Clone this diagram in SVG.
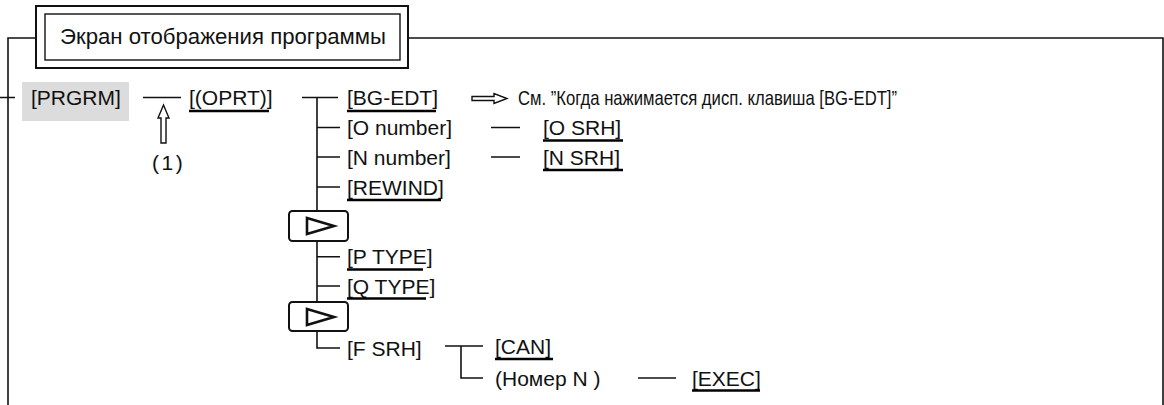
<svg xmlns="http://www.w3.org/2000/svg" width="1164" height="405" viewBox="0 0 1164 405">
<style>
text{font-family:"Liberation Sans",Arial,sans-serif;font-size:21px;fill:#111}
.ln{stroke:#111;stroke-width:1.6;fill:none}
.ul{stroke:#000;stroke-width:2.6}
.key{fill:#fff;stroke:#111;stroke-width:2}
.tri{fill:none;stroke:#111;stroke-width:2.6;stroke-linejoin:miter}
.hol{fill:#fff;stroke:#111;stroke-width:1.4}
</style>
<rect width="1164" height="405" fill="#fff"/>
<g id="frame">
<path class="ln" d="M8,405V38H36M408,38H1163V405M0,97.5H15"/>
</g>
<g id="title">
<rect x="36" y="6" width="372" height="62" fill="#fff" stroke="#111" stroke-width="2"/>
<rect x="45" y="14" width="355" height="46" fill="#fff" stroke="#111" stroke-width="1.4"/>
<text x="60" y="44" style="font-size:22px" textLength="326" lengthAdjust="spacingAndGlyphs">Экран отображения программы</text>
</g>
<g id="connectors">
<path class="ln" d="M143,97.5H181"/>
<path class="ln" d="M302,97.5H338M317,97.5V211M317,241V302M317,331V348H340"/>
<path class="ln" d="M317,127.5H340M317,157H340M317,187H340M317,256.7H340M317,286H340"/>
<path class="ln" d="M491,127.5H520M491,157H520"/>
<path class="ln" d="M445,346H483M461,346V378H483"/>
<path class="ln" d="M638,378H676"/>
<polygon class="hol" points="163.5,105 169,118 166,118 166,143 161,143 161,118 158,118"/>
<polygon class="hol" points="472,96.5 494,96.5 494,93.5 507,98.5 494,103.5 494,100.5 472,100.5"/>
</g>
<g id="prgrm">
<rect x="22" y="82" width="107" height="39" fill="#dcdcdc"/>
<text x="31" y="105">[PRGRM]</text>
</g>
<g id="label1"><text x="152" y="170" letter-spacing="2.5">(1)</text></g>
<g id="oprt"><text x="189" y="105">[(OPRT)]</text><line class="ul" x1="189" y1="111" x2="269" y2="111"/></g>
<g id="bgedt"><text x="347" y="105">[BG-EDT]</text><line class="ul" x1="347" y1="111" x2="436" y2="111"/></g>
<g id="note"><text x="518" y="105" textLength="379" lengthAdjust="spacingAndGlyphs">См. ”Когда нажимается дисп. клавиша [BG-EDT]”</text></g>
<g id="onumber"><text x="347" y="135">[O number]</text></g>
<g id="osrh"><text x="543" y="135">[O SRH]</text><line class="ul" x1="543" y1="140.5" x2="623" y2="140.5"/></g>
<g id="nnumber"><text x="347" y="164.5">[N number]</text></g>
<g id="nsrh"><text x="543" y="164.5">[N SRH]</text><line class="ul" x1="543" y1="170" x2="623" y2="170"/></g>
<g id="rewind"><text x="347" y="194.5">[REWIND]</text><line class="ul" x1="347" y1="200" x2="441" y2="200"/></g>
<g id="next1"><rect class="key" x="289" y="211" width="59" height="30" rx="3.5"/><polygon class="tri" points="307,218 334,226 307,234"/></g>
<g id="ptype"><text x="347" y="264">[P TYPE]</text><line class="ul" x1="347" y1="269.5" x2="423" y2="269.5"/></g>
<g id="qtype"><text x="347" y="293.5">[Q TYPE]</text><line class="ul" x1="347" y1="298.5" x2="426" y2="298.5"/></g>
<g id="next2"><rect class="key" x="289" y="302" width="59" height="29" rx="3.5"/><polygon class="tri" points="307,309 334,317 307,325"/></g>
<g id="fsrh"><text x="347" y="355.5">[F SRH]</text></g>
<g id="can"><text x="495" y="353.5">[CAN]</text><line class="ul" x1="495" y1="359" x2="553" y2="359"/></g>
<g id="nomer"><text x="495" y="385.5">(Номер N )</text></g>
<g id="exec"><text x="692" y="385.5">[EXEC]</text><line class="ul" x1="692" y1="390.5" x2="760" y2="390.5"/></g>
</svg>
